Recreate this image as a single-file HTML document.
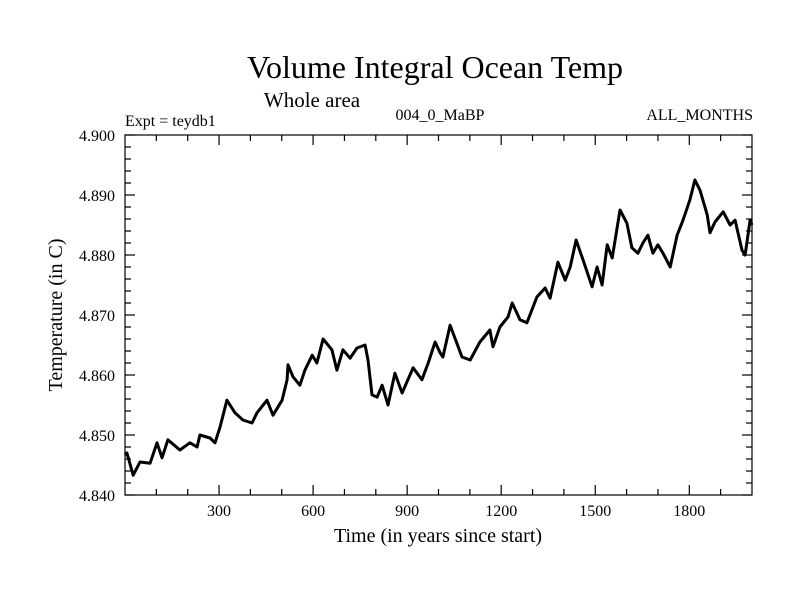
<!DOCTYPE html>
<html><head><meta charset="utf-8"><style>
body{margin:0;background:#fff;}
svg text{font-family:"Liberation Serif",serif;fill:#000;}
</style></head><body>
<svg id="chart" width="800" height="600" xmlns="http://www.w3.org/2000/svg">
<text x="435" y="78" font-size="32" text-anchor="middle">Volume Integral Ocean Temp</text>
<text x="312" y="107" font-size="21" text-anchor="middle">Whole area</text>
<text x="125" y="126" font-size="16">Expt = teydb1</text>
<text x="440" y="120" font-size="16" text-anchor="middle">004_0_MaBP</text>
<text x="753" y="120" font-size="16" text-anchor="end">ALL_MONTHS</text>
<text transform="translate(62,315) rotate(-90)" font-size="20" text-anchor="middle">Temperature (in C)</text>
<text x="438" y="542" font-size="20" text-anchor="middle">Time (in years since start)</text>
<g id="axes"></g>
<path id="line" fill="none" stroke="#000" stroke-width="3" stroke-linejoin="round"/>
<rect x="125" y="135" width="627" height="360" fill="none" stroke="#000" stroke-width="1.2"/>
</svg>
<script>
const years=[0,6,26,48,80,102,118,137,175,207,230,239,271,287,303,325,351,376,405,421,453,472,501,517,520,536,558,574,597,612,632,660,676,695,718,740,766,775,788,804,820,839,861,884,919,947,967,989,1005,1014,1037,1075,1101,1132,1164,1174,1196,1222,1235,1260,1282,1314,1340,1356,1381,1404,1420,1439,1461,1490,1506,1522,1538,1554,1579,1601,1617,1636,1652,1668,1684,1700,1716,1739,1761,1780,1802,1818,1834,1857,1866,1882,1908,1930,1946,1968,1978,1994,2000];
const temps=[4.8467,4.8470,4.8433,4.8455,4.8453,4.8487,4.8462,4.8492,4.8475,4.8487,4.8480,4.8500,4.8495,4.8487,4.8513,4.8558,4.8537,4.8525,4.8520,4.8537,4.8558,4.8533,4.8558,4.8592,4.8617,4.8597,4.8583,4.8608,4.8633,4.8620,4.8660,4.8642,4.8608,4.8642,4.8628,4.8645,4.8650,4.8625,4.8567,4.8563,4.8583,4.8550,4.8603,4.8570,4.8612,4.8592,4.8620,4.8655,4.8637,4.8630,4.8683,4.8630,4.8625,4.8655,4.8675,4.8647,4.8680,4.8697,4.8720,4.8692,4.8687,4.8730,4.8745,4.8728,4.8788,4.8758,4.8780,4.8825,4.8792,4.8747,4.8780,4.8750,4.8817,4.8795,4.8875,4.8853,4.8812,4.8803,4.8820,4.8833,4.8803,4.8817,4.8803,4.8780,4.8833,4.8858,4.8892,4.8925,4.8908,4.8867,4.8837,4.8855,4.8872,4.8850,4.8858,4.8808,4.8800,4.8858,4.8850];
const xTickLabels=[300,600,900,1200,1500,1800];
const yTickLabels=["4.840","4.850","4.860","4.870","4.880","4.890","4.900"];
const L=125,R=752,T=135,B=495,X0=0,X1=2000,Y0=4.84,Y1=4.90;
function sx(v){return L+(v-X0)/(X1-X0)*(R-L);}
function sy(v){return B-(v-Y0)/(Y1-Y0)*(B-T);}
const NS="http://www.w3.org/2000/svg";
const axes=document.getElementById('axes');
function ln(x1,y1,x2,y2,name){const l=document.createElementNS(NS,'line');l.setAttribute('x1',x1);l.setAttribute('y1',y1);l.setAttribute('x2',x2);l.setAttribute('y2',y2);l.setAttribute('stroke','#000');l.setAttribute('stroke-width','1.2');


axes.appendChild(l);}
for(let v=100;v<X1;v+=100){const x=sx(v);const len=(v%300===0)?10:6;ln(x,B,x,B-len,'x-tick');ln(x,T,x,T+len,'x-tick-top');}
for(let i=0;i<=30;i++){const v=Y0+i*0.002;const y=sy(v);const len=(i%5===0)?10:6;ln(L,y,L+len,y,'y-tick');ln(R,y,R-len,y,'y-tick-right');}
xTickLabels.forEach(v=>{const t=document.createElementNS(NS,'text');t.setAttribute('x',sx(v));t.setAttribute('y',B+21);t.setAttribute('font-size','16');t.setAttribute('text-anchor','middle');t.textContent=v;


axes.appendChild(t);});
yTickLabels.forEach(s=>{const t=document.createElementNS(NS,'text');t.setAttribute('x',L-10);t.setAttribute('y',sy(parseFloat(s))+6);t.setAttribute('font-size','16');t.setAttribute('text-anchor','end');t.textContent=s;


axes.appendChild(t);});
document.getElementById('line').setAttribute('d',years.map((y,i)=>(i?'L':'M')+sx(y).toFixed(1)+','+sy(temps[i]).toFixed(1)).join(''));
</script>
</body></html>
